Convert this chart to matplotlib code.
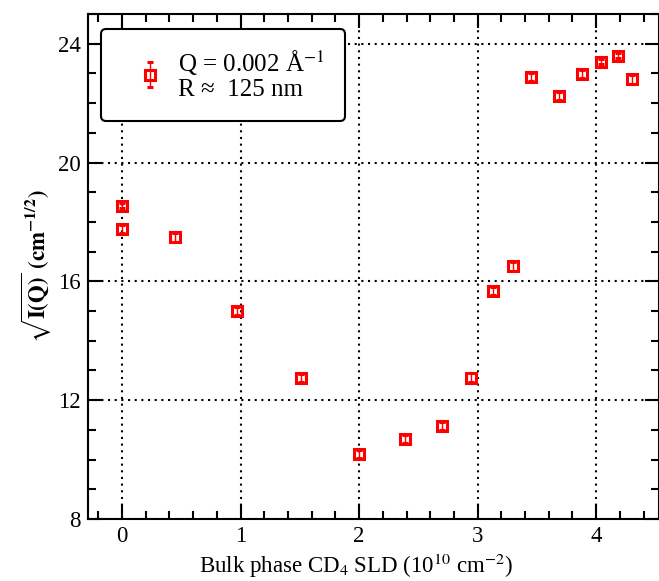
import matplotlib
matplotlib.use("Agg")
import matplotlib.pyplot as plt
from matplotlib.ticker import MultipleLocator

plt.rcParams['font.family'] = ['Liberation Serif', 'DejaVu Serif']
plt.rcParams['mathtext.fontset'] = 'stix'

sld = [0.0, 0.0, 0.45, 0.97, 1.51, 2.0, 2.39, 2.70, 2.94, 3.13, 3.30,
       3.45, 3.69, 3.88, 4.04, 4.18, 4.30]
sqrt_I = [18.55, 17.76, 17.48, 15.01, 12.74, 10.18, 10.69, 11.12, 12.76,
          15.67, 16.50, 22.87, 22.24, 22.99, 23.40, 23.60, 22.80]
err = [0.08, 0.14, 0.14, 0.14, 0.14, 0.14, 0.14, 0.14, 0.14, 0.14, 0.14,
       0.14, 0.14, 0.14, 0.08, 0.08, 0.14]
x_ticks = [0, 1, 2, 3, 4]
y_ticks = [8, 12, 16, 20, 24]

fig = plt.figure(figsize=(6.59, 5.81), dpi=100)
ax = fig.add_axes([88/659, 1-519/581, 1-88/659, (519-14)/581])

ax.errorbar(sld, sqrt_I, yerr=err, fmt='s', color='#ff0000', ms=6.5,
            mfc='none', mec='#ff0000', mew=2.2, elinewidth=1.0,
            capsize=2.2, capthick=1.0,
            label='Q = 0.002 Å$^{-1}$\nR ≈  125 nm')

ax.set_xlim(-0.287, 4.53)
ax.set_ylim(8, 25)
ax.set_xticks(x_ticks)
ax.set_yticks(y_ticks)
ax.xaxis.set_minor_locator(MultipleLocator(0.2))
ax.yaxis.set_minor_locator(MultipleLocator(1))
ax.tick_params(which='both', direction='in', top=True, right=True,
               labelsize=16.5, width=1.5, colors='black')
ax.tick_params(which='major', length=10, pad=5)
ax.tick_params(which='minor', length=6)
for s in ax.spines.values():
    s.set_linewidth(1.5)

ax.grid(True, which='major', color='black', linestyle=(0, (1, 2.2)), linewidth=1.5)
ax.set_axisbelow(True)

ax.set_xlabel('Bulk phase CD$_4$ SLD (10$^{10}$ cm$^{-2}$)', fontsize=16.5)
ax.xaxis.set_label_coords((356 - 88) / 571, -0.064)
ax.set_ylabel(r'$\mathbf{\sqrt{I(Q)}}$ $\mathbf{(cm^{-1/2})}$', fontsize=16.5, labelpad=3)

leg = ax.legend(loc='upper left', fontsize=18, frameon=True, fancybox=True,
                edgecolor='black', framealpha=1, borderpad=0.8,
                handletextpad=0.0, handlelength=2.3, labelspacing=0.15,
                borderaxespad=0, bbox_to_anchor=((101-88)/571, 1-(29-14)/505))
leg.get_frame().set_linewidth(1.5)
for t in leg.get_texts():
    t.set_linespacing(1.05)

fig.savefig('out.png', dpi=100)
